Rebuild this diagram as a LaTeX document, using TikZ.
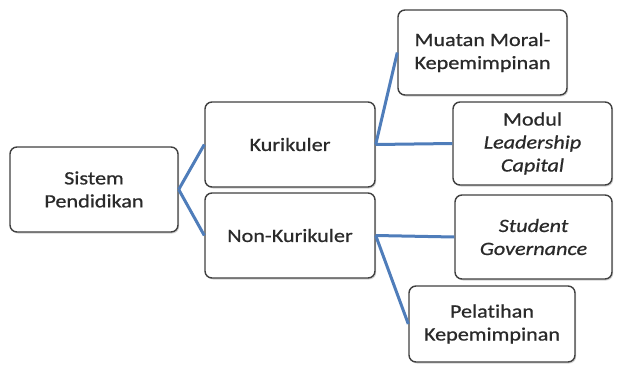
\documentclass[tikz,border=0pt]{standalone}
\usepackage{fontspec}
\setmainfont[FakeStretch=1.18, FakeBold=0.7, Ligatures=NoCommon]{Carlito}
\usetikzlibrary{shadows}
\definecolor{lnk}{HTML}{4F7DBA}
\definecolor{txt}{HTML}{2A2A2A}
\tikzset{
  box/.style={draw=black!75, line width=1.4pt, rounded corners=7pt, fill=white,
    drop shadow={shadow xshift=1.2pt, shadow yshift=-1.5pt, fill=black!35, opacity=0.5},
    align=center, text=txt, font=\fontsize{18.8}{23}\selectfont, inner sep=0pt},
  link/.style={draw=lnk, line width=3pt}
}
\begin{document}
\begin{tikzpicture}[x=1pt,y=-1pt]
\useasboundingbox (0,0) rectangle (617,369);
\node[box, minimum width=168pt, minimum height=85pt] (sp) at (94,189.5) {Sistem\\Pendidikan};
\node[box, minimum width=170pt, minimum height=85pt] (ku) at (290,144.5) {Kurikuler};
\node[box, minimum width=170pt, minimum height=85pt] (nk) at (290,235.5) {Non-Kurikuler};
\node[box, minimum width=169pt, minimum height=85pt] (mm) at (482.5,52.5) {Muatan Moral-\\Kepemimpinan};
\node[box, minimum width=159pt, minimum height=83pt] (md) at (532.5,143.5) {Modul\\\itshape Leadership\\\itshape Capital};
\node[box, minimum width=157pt, minimum height=84pt] (sg) at (533.5,237) {\itshape Student\\\itshape Governance};
\node[box, minimum width=166pt, minimum height=76pt] (pk) at (492,324) {Pelatihan\\Kepemimpinan};
\draw[link] (sp.east) -- (ku.west);
\draw[link] (sp.east) -- (nk.west);
\draw[link] (ku.east) -- (mm.west);
\draw[link] (ku.east) -- (md.west);
\draw[link] (nk.east) -- (sg.west);
\draw[link] (nk.east) -- (pk.west);
\end{tikzpicture}
\end{document}
